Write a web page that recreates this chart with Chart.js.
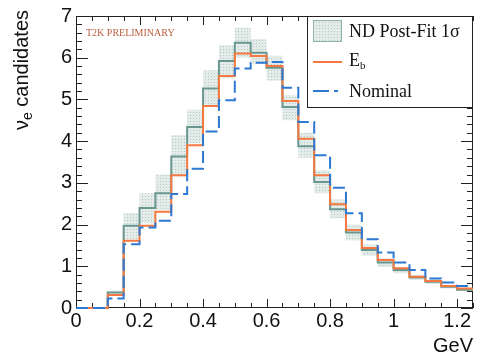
<!DOCTYPE html>
<html>
<head>
<meta charset="UTF-8">
<title>nue candidates</title>
<style>
  body { margin: 0; background: #ffffff; }
  canvas { display: block; }
</style>
</head>
<body>
<canvas id="chart" width="481" height="361"></canvas>
<script src="https://cdn.jsdelivr.net/npm/chart.js"></script>
<script>
// bin edges (GeV) and contents per bin
const binEdges = [0, 0.05, 0.1, 0.15, 0.2, 0.25, 0.3, 0.35, 0.4, 0.45, 0.5, 0.55, 0.6,
  0.65, 0.7, 0.75, 0.8, 0.85, 0.9, 0.95, 1.0, 1.05, 1.1, 1.15, 1.2, 1.25];
const postFit = [0, 0, 0.37, 1.97, 2.40, 2.75, 3.63, 4.34, 5.26, 5.92, 6.36, 6.12, 5.76,
  4.82, 3.88, 3.02, 2.37, 1.81, 1.39, 1.09, 0.91, 0.73, 0.63, 0.51, 0.44];
const bandHigh = [0, 0, 0.42, 2.28, 2.75, 3.20, 4.15, 4.75, 5.70, 6.30, 6.72, 6.45, 6.05,
  5.10, 4.20, 3.30, 2.60, 2.00, 1.52, 1.20, 0.98, 0.79, 0.68, 0.55, 0.47];
const bandLow = [0, 0, 0.32, 1.65, 2.03, 2.35, 3.15, 3.95, 4.85, 5.50, 6.00, 5.85, 5.45,
  4.50, 3.60, 2.75, 2.15, 1.62, 1.25, 0.98, 0.83, 0.67, 0.58, 0.47, 0.41];
const ebValues = [0, 0, 0.31, 1.61, 1.97, 2.31, 3.18, 3.90, 4.84, 5.56, 6.10, 6.04, 5.80,
  4.96, 4.06, 3.18, 2.49, 1.87, 1.44, 1.15, 0.95, 0.75, 0.65, 0.53, 0.47];
const nominal = [0, 0, 0.23, 1.53, 1.93, 2.09, 2.73, 3.34, 4.23, 4.98, 5.74, 5.88, 5.90,
  5.28, 4.46, 3.66, 2.88, 2.27, 1.65, 1.33, 1.09, 0.91, 0.71, 0.61, 0.53];
const xTicks = [0, 0.2, 0.4, 0.6, 0.8, 1, 1.2];
const yTicks = [0, 1, 2, 3, 4, 5, 6, 7];

const GREEN = '#69978f';
const ORANGE = '#f47840';
const BLUE = '#2c78d2';

// histogram as stepped line: one point per edge, last bin repeated
function steps(vals) {
  return binEdges.map((x, i) => ({ x: x, y: vals[Math.min(i, vals.length - 1)] }));
}

// dotted hatch like the ROOT fill style
function makePattern() {
  const c = document.createElement('canvas');
  c.width = 3; c.height = 3;
  const g = c.getContext('2d');
  g.fillStyle = '#e3ece9';
  g.fillRect(0, 0, 3, 3);
  g.fillStyle = '#b3c9c4';
  g.fillRect(1, 1, 1, 1);
  return document.getElementById('chart').getContext('2d').createPattern(c, 'repeat');
}
const hatch = makePattern();

// frame, inward ticks, legend and labels in ROOT style
const rootStyle = {
  id: 'rootStyle',
  beforeDatasetsDraw(chart) {
    const ctx = chart.ctx;
    const a = chart.chartArea;
    const xs = chart.scales.x, ys = chart.scales.y;
    ctx.save();
    ctx.strokeStyle = '#222';
    ctx.lineWidth = 1;
    ctx.strokeRect(a.left + 0.5, a.top + 0.5, a.right - a.left - 1, a.bottom - a.top - 1);

    ctx.beginPath();
    for (let k = 0; k <= 25; k++) {
      const px = Math.round(xs.getPixelForValue(k * 0.05)) + 0.5;
      const len = (k % 4 === 0) ? 9 : 5;
      ctx.moveTo(px, a.bottom); ctx.lineTo(px, a.bottom - len);
      ctx.moveTo(px, a.top); ctx.lineTo(px, a.top + len);
    }
    for (let k = 0; k <= 35; k++) {
      const py = Math.round(ys.getPixelForValue(k * 0.2)) + 0.5;
      const len = (k % 5 === 0) ? 12 : 6;
      ctx.moveTo(a.left, py); ctx.lineTo(a.left + len, py);
      ctx.moveTo(a.right, py); ctx.lineTo(a.right - len, py);
    }
    ctx.stroke();
    ctx.restore();
  },
  afterDraw(chart) {
    const ctx = chart.ctx;
    const a = chart.chartArea;
    ctx.save();

    // T2K preliminary tag
    ctx.fillStyle = '#b9603f';
    ctx.font = '10px "Liberation Serif", serif';
    ctx.textBaseline = 'middle';
    ctx.textAlign = 'left';
    ctx.fillText('T2K PRELIMINARY', a.left + 10, a.top + 17);

    // legend box
    const lx = 307, ly = a.top, lw = a.right - lx, lh = 92;
    ctx.fillStyle = '#ffffff';
    ctx.fillRect(lx, ly, lw, lh);
    ctx.strokeStyle = '#222';
    ctx.lineWidth = 1;
    ctx.strokeRect(lx + 0.5, ly + 0.5, lw - 1, lh - 1);

    ctx.fillStyle = hatch;
    ctx.fillRect(313, ly + 4, 29, 22);
    ctx.strokeStyle = '#8fb3ad';
    ctx.strokeRect(313.5, ly + 4.5, 28, 21);

    ctx.lineWidth = 2;
    ctx.strokeStyle = ORANGE;
    ctx.beginPath(); ctx.moveTo(313, ly + 46); ctx.lineTo(342, ly + 46); ctx.stroke();
    ctx.strokeStyle = BLUE;
    ctx.setLineDash([16, 5, 4, 100]);
    ctx.beginPath(); ctx.moveTo(313, ly + 75); ctx.lineTo(342, ly + 75); ctx.stroke();
    ctx.setLineDash([]);

    ctx.fillStyle = '#111';
    ctx.font = '18px "Liberation Serif", serif';
    ctx.fillText('ND Post-Fit 1\u03c3', 349, ly + 16);
    ctx.fillText('E', 349, ly + 45);
    const ew = ctx.measureText('E').width;
    ctx.font = '11px "Liberation Serif", serif';
    ctx.fillText('b', 349 + ew, ly + 50);
    ctx.font = '18px "Liberation Serif", serif';
    ctx.fillText('Nominal', 349, ly + 76);

    // y axis title with subscript
    ctx.translate(22, 10);
    ctx.rotate(-Math.PI / 2);
    ctx.fillStyle = '#111';
    const big = '20px "Liberation Sans", Arial, sans-serif';
    const small = '14px "Liberation Sans", Arial, sans-serif';
    ctx.font = big;
    const w1 = ctx.measureText('\u03bd').width;
    const w3 = ctx.measureText(' candidates').width;
    ctx.font = small;
    const w2 = ctx.measureText('e').width;
    const x0 = -(w1 + w2 + w3);
    ctx.textAlign = 'left';
    ctx.font = big;
    ctx.fillText('\u03bd', x0, 0);
    ctx.font = small;
    ctx.fillText('e', x0 + w1, 6);
    ctx.font = big;
    ctx.fillText(' candidates', x0 + w1 + w2, 0);
    ctx.restore();
  }
};

const lineBase = { stepped: 'before', pointRadius: 0, fill: false, borderWidth: 2, clip: 3 };

new Chart(document.getElementById('chart'), {
  type: 'line',
  data: {
    datasets: [
      Object.assign({ label: 'Nominal', data: steps(nominal), borderColor: BLUE, borderDash: [12, 5] }, lineBase),
      Object.assign({ label: 'Eb', data: steps(ebValues), borderColor: ORANGE }, lineBase),
      Object.assign({ label: 'Post-fit', data: steps(postFit), borderColor: GREEN }, lineBase),
      { label: 'band high', data: steps(bandHigh), stepped: 'before', pointRadius: 0, borderWidth: 0,
        borderColor: 'rgba(0,0,0,0)', backgroundColor: hatch, fill: '+1' },
      { label: 'band low', data: steps(bandLow), stepped: 'before', pointRadius: 0, borderWidth: 0,
        borderColor: 'rgba(0,0,0,0)', fill: false }
    ]
  },
  options: {
    responsive: false,
    animation: false,
    devicePixelRatio: 1,
    layout: { padding: { top: 14, right: 8, left: 0, bottom: 0 } },
    plugins: { legend: { display: false }, tooltip: { enabled: false } },
    scales: {
      x: {
        type: 'linear', min: 0, max: 1.25,
        afterBuildTicks: s => { s.ticks = xTicks.map(v => ({ value: v })); },
        afterFit: s => { s.height = 53; },
        grid: { display: false, drawTicks: false }, border: { display: false },
        ticks: {
          color: '#111', maxRotation: 0, padding: 1,
          font: { family: '"Liberation Sans", Arial, sans-serif', size: 20 },
          callback: v => String(parseFloat(v.toFixed(2)))
        },
        title: {
          display: true, text: 'GeV', align: 'end', color: '#111',
          font: { family: '"Liberation Sans", Arial, sans-serif', size: 20 },
          padding: { top: 0, bottom: 3 }
        }
      },
      y: {
        min: 0, max: 7,
        afterBuildTicks: s => { s.ticks = yTicks.map(v => ({ value: v })); },
        afterFit: s => { s.width = 76; },
        grid: { display: false, drawTicks: false }, border: { display: false },
        ticks: {
          color: '#111', padding: 4,
          font: { family: '"Liberation Sans", Arial, sans-serif', size: 20 }
        }
      }
    }
  },
  plugins: [rootStyle]
});
</script>
</body>
</html>
